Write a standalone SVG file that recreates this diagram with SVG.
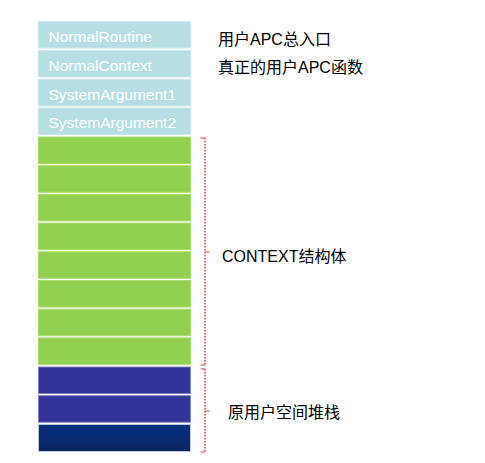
<svg xmlns="http://www.w3.org/2000/svg" width="485" height="463" viewBox="0 0 485 463">
<style>
.b{stroke-width:1}
.lb{fill:#b7dfe3;stroke:#c8e8ea}
.gr{fill:#92d050;stroke:#a8dc70}
.pu{fill:#333399;stroke:#8080c0}
.wt{font-family:"Liberation Sans",Arial,sans-serif;font-size:15.5px;fill:#ffffff}
.lt{font-family:"Liberation Sans","Noto Sans CJK SC",sans-serif;font-size:16px;fill:#000000}
.br{fill:none;stroke:#cc2020;stroke-width:1.3;stroke-dasharray:1.5,1.5}
.tk{fill:none;stroke:#f08080;stroke-width:1.3}
</style>
<defs>
<linearGradient id="nv" x1="0" y1="0" x2="0" y2="1">
<stop offset="0" stop-color="#06307f"/>
<stop offset="1" stop-color="#0b2462"/>
</linearGradient>
</defs>
<rect width="485" height="463" fill="#ffffff"/>
<g id="node-normalroutine"><rect class="b lb" x="38.5" y="21.5" width="152" height="26.5"/><text class="wt" x="48.5" y="41.5">NormalRoutine</text></g>
<g id="node-normalcontext"><rect class="b lb" x="38.5" y="50.5" width="152" height="26.5"/><text class="wt" x="48.5" y="70.5">NormalContext</text></g>
<g id="node-sysarg1"><rect class="b lb" x="38.5" y="79.5" width="152" height="26.5"/><text class="wt" x="48.5" y="99.5">SystemArgument1</text></g>
<g id="node-sysarg2"><rect class="b lb" x="38.5" y="108" width="152" height="26.5"/><text class="wt" x="48.5" y="128">SystemArgument2</text></g>
<g id="node-context">
<rect class="b gr" x="38.5" y="137" width="152" height="26.5"/>
<rect class="b gr" x="38.5" y="165.7" width="152" height="26.5"/>
<rect class="b gr" x="38.5" y="194.4" width="152" height="26.5"/>
<rect class="b gr" x="38.5" y="223.1" width="152" height="26.5"/>
<rect class="b gr" x="38.5" y="251.8" width="152" height="26.5"/>
<rect class="b gr" x="38.5" y="280.5" width="152" height="26.5"/>
<rect class="b gr" x="38.5" y="309.2" width="152" height="26.5"/>
<rect class="b gr" x="38.5" y="337.9" width="152" height="26.5"/>
</g>
<g id="node-stack">
<rect class="b pu" x="38.5" y="367" width="152" height="26.5"/>
<rect class="b pu" x="38.5" y="395.7" width="152" height="26.5"/>
<rect x="38.5" y="424.5" width="152" height="27" fill="url(#nv)" stroke="#c0c8d8" stroke-width="1"/>
</g>
<g id="connectors">
<path class="br" d="M205 138 V365"/>
<path class="tk" d="M200.5 138 H205 M200.5 365 H205 M205 252 H209.5"/>
<path class="br" d="M205 369 V452"/>
<path class="tk" d="M200.5 369 H205 M200.5 452 H205 M205 411 H209.5"/>
</g>
<g id="labels">
<text class="lt" x="218" y="44.5">用户APC总入口</text>
<text class="lt" x="218" y="72.5">真正的用户APC函数</text>
<text class="lt" x="222" y="261.5">CONTEXT结构体</text>
<text class="lt" x="228" y="417.5">原用户空间堆栈</text>
</g>
</svg>
